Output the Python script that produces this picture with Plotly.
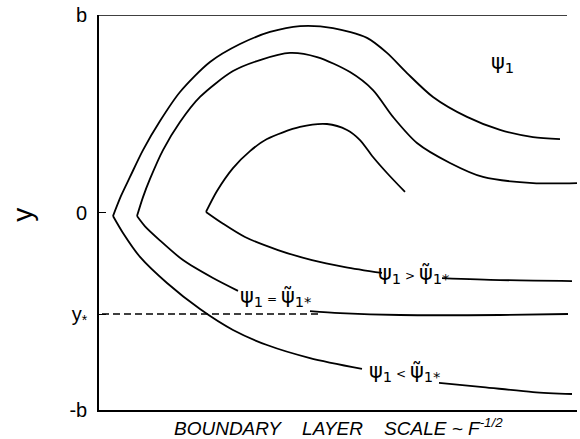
import plotly.graph_objects as go

# Streamline data, x: boundary-layer distance (arbitrary units 0..478), y: in units of b
outer_up_x = [14, 22, 31, 44, 61, 81, 111, 141, 171, 201, 234, 268, 288, 308, 334, 368, 401, 434, 461]
outer_up_y = [-0.018, 0.084, 0.180, 0.316, 0.463, 0.610, 0.762, 0.853, 0.914, 0.944, 0.934, 0.884,
              0.808, 0.706, 0.585, 0.484, 0.418, 0.382, 0.372]
outer_lo_x = [14, 24, 41, 68, 101, 134, 168, 211, 263, None, 340, 384, 434, 473]
outer_lo_y = [-0.018, -0.104, -0.225, -0.357, -0.489, -0.595, -0.671, -0.737, -0.792, None,
              -0.863, -0.884, -0.909, -0.919]

mid_up_x = [38, 44, 51, 64, 81, 101, 134, 161, 191, 218, 251, 274, 294, 318, 351, 384, 434, 478]
mid_up_y = [-0.018, 0.078, 0.170, 0.316, 0.458, 0.585, 0.716, 0.772, 0.808, 0.787, 0.711, 0.620,
            0.484, 0.352, 0.251, 0.180, 0.149, 0.149]
mid_lo_x = [38, 46, 60, 84, 114, 139, None, 211, 241, 301, 401, 469]
mid_lo_y = [-0.018, -0.070, -0.137, -0.241, -0.332, -0.397, None, -0.499, -0.509, -0.519, -0.519, -0.514]

in_up_x = [107, 118, 134, 151, 168, 201, 228, 248, 261, 274, 288, 306]
in_up_y = [0.003, 0.109, 0.225, 0.311, 0.372, 0.433, 0.448, 0.418, 0.367, 0.281, 0.200, 0.104]
in_lo_x = [107, 123, 146, 179, 213, 246, 283, None, 343, 401, 473]
in_lo_y = [0.003, -0.053, -0.124, -0.190, -0.241, -0.276, -0.306, None, -0.332, -0.342, -0.347]

ystar = -0.514
dash_x = [3, 223]

tick_vals = [1, 0, ystar, -1]
tick_text = ["b", "0", "y<sub>*</sub>", "-b"]

fig = go.Figure()
for xs, ys in [(outer_up_x, outer_up_y), (outer_lo_x, outer_lo_y),
               (mid_up_x, mid_up_y), (mid_lo_x, mid_lo_y),
               (in_up_x, in_up_y), (in_lo_x, in_lo_y)]:
    fig.add_trace(go.Scatter(x=xs, y=ys, mode="lines",
                             line=dict(color="black", width=1.8, shape="spline", smoothing=0.8),
                             connectgaps=False, showlegend=False, hoverinfo="skip"))

fig.add_trace(go.Scatter(x=dash_x, y=[ystar, ystar], mode="lines",
                         line=dict(color="black", width=1.6, dash="7px,4px"),
                         showlegend=False, hoverinfo="skip"))

lab_font = dict(family="DejaVu Sans", size=21, color="black")
op = lambda s: "<span style='font-size:12px'> " + s + " </span>"
fig.add_annotation(x=403, y=0.757, text="ψ<sub>1</sub>", showarrow=False, font=lab_font)
fig.add_annotation(x=314, y=-0.311, text="ψ<sub>1</sub>" + op(">") + "ψ̃<sub>1*</sub>",
                   showarrow=False, font=lab_font)
fig.add_annotation(x=176, y=-0.428, text="ψ<sub>1</sub>" + op("=") + "ψ̃<sub>1*</sub>",
                   showarrow=False, font=lab_font)
fig.add_annotation(x=305, y=-0.808, text="ψ<sub>1</sub>" + op("<") + "ψ̃<sub>1*</sub>",
                   showarrow=False, font=lab_font)

# axis titles
fig.add_annotation(xref="paper", yref="paper", x=-0.159, y=0.494, xanchor="center", yanchor="middle",
                   text="y", textangle=-90, showarrow=False,
                   font=dict(family="Liberation Sans", size=28, color="black"))
sp = "\u00a0" * 4
fig.add_annotation(xref="paper", yref="paper", x=0.5, y=-0.043, xanchor="center", yanchor="middle",
                   text="BOUNDARY" + sp + "LAYER" + sp + "SCALE ~ F<sup>-1/2</sup>",
                   showarrow=False, font=dict(family="Liberation Sans", size=19, color="black", style="italic"))

# top frame line
fig.add_shape(type="line", x0=0, x1=468, y0=1, y1=1, line=dict(color="black", width=1.6))

fig.update_layout(
    width=580, height=439,
    margin=dict(l=99, r=3, t=15, b=29),
    paper_bgcolor="white", plot_bgcolor="white",
    xaxis=dict(range=[0, 478], showgrid=False, zeroline=False, showticklabels=False, ticks="",
               showline=True, linecolor="black", linewidth=1.6),
    yaxis=dict(range=[-1, 1], showgrid=False, zeroline=False, tickmode="array",
               tickvals=tick_vals, ticktext=tick_text, ticks="inside", ticklen=7,
               tickcolor="black", tickwidth=1.4, ticklabelstandoff=6,
               tickfont=dict(family="Liberation Sans", size=20, color="black"),
               showline=True, linecolor="black", linewidth=1.6),
)

# remove the default 8px page margin so the figure fills the window exactly
fig.write_html("out.html", config={"displayModeBar": False},
               post_script="document.body.style.margin='0px';document.body.style.overflow='hidden';")
